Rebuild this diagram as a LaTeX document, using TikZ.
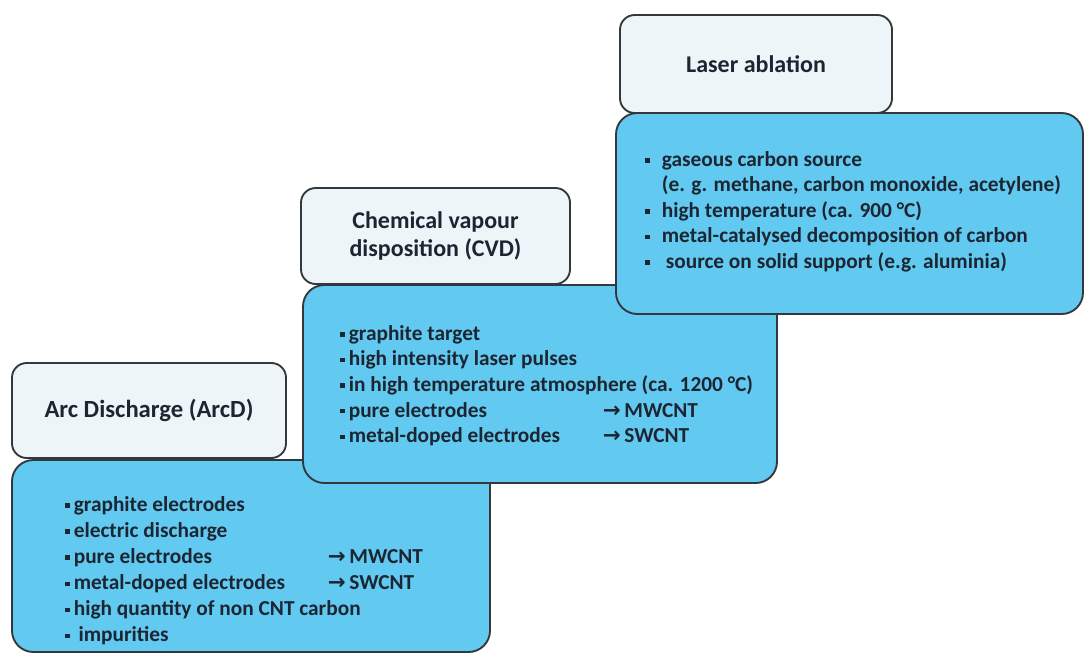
\documentclass[tikz,border=0pt]{standalone}
\usepackage{fontspec}
\setmainfont{Carlito}
\newfontfamily\symfont{DejaVu Sans}

\definecolor{bodyblue}{HTML}{62C9F0}
\definecolor{titlefill}{HTML}{EEF5F9}
\definecolor{edge}{HTML}{33383D}
\definecolor{ink}{HTML}{1C2632}

% small square bullet and the "-> product" column
\newcommand{\blt}{\rule[2.7pt]{3.4pt}{3.4pt}\hspace{3pt}}
\newcommand{\res}[2]{\makebox[197pt][l]{#1}{\symfont\bfseries →}\,#2}

\tikzset{
  titlebox/.style={draw=edge, line width=1.4pt, fill=titlefill, rounded corners=11pt,
    text=ink, font=\bfseries\fontsize{18}{20.5}\selectfont, align=center, inner sep=0pt},
  bodybox/.style={draw=edge, line width=1.4pt, fill=bodyblue, rounded corners=16pt, inner sep=0pt},
  itemtext/.style={anchor=north west, inner sep=0pt, text=ink, align=left,
    font=\bfseries\fontsize{16}{19.6}\selectfont}
}

\begin{document}
\begin{tikzpicture}[x=0.75pt, y=-0.75pt]
  \useasboundingbox (0,0) rectangle (1085,654);

  % Arc discharge
  \node[bodybox, minimum width=358.5pt, minimum height=144pt] (arcbody) at (251,556) {};
  \node[titlebox, minimum width=205.5pt, minimum height=71.25pt, font=\bfseries\fontsize{18.5}{21}\selectfont] (arctitle) at (149,410.5) {Arc Discharge (ArcD)};
  \node[itemtext] (arclist) at (65,496) {\blt graphite electrodes\\
    \blt electric discharge\\
    \res{\blt pure electrodes}{MWCNT}\\
    \res{\blt metal-doped electrodes}{SWCNT}\\
    \blt high quantity of non CNT carbon\\
    \blt\ impurities};

  % CVD
  \node[bodybox, minimum width=355.5pt, minimum height=148.5pt] (cvdbody) at (540,384) {};
  \node[titlebox, minimum width=201.75pt, minimum height=72pt] (cvdtitle) at (435.5,236) {Chemical vapour\\disposition (CVD)};
  \node[itemtext, font=\bfseries\fontsize{16}{19.2}\selectfont] (cvdlist) at (340,325) {\blt graphite target\\
    \blt high intensity laser pulses\\
    \blt in high temperature atmosphere (ca. 1200 °C)\\
    \res{\blt pure electrodes}{MWCNT}\\
    \res{\blt metal-doped electrodes}{SWCNT}};

  % Laser ablation
  \node[bodybox, minimum width=350.25pt, minimum height=150.75pt] (laserbody) at (849.5,213.5) {};
  \node[titlebox, minimum width=204pt, minimum height=73.5pt] (lasertitle) at (756,64) {Laser ablation};
  \node[itemtext, font=\bfseries\fontsize{16}{19.1}\selectfont] (laserlist) at (645,151) {\blt\hspace{6pt}gaseous carbon source\\
    \hspace{12.5pt}(e. g. methane, carbon monoxide, acetylene)\\
    \blt\hspace{6pt}high temperature (ca. 900 °C)\\
    \blt\hspace{6pt}metal-catalysed decomposition of carbon\\
    \blt\hspace{9pt}source on solid support (e.g. aluminia)};
\end{tikzpicture}
\end{document}
